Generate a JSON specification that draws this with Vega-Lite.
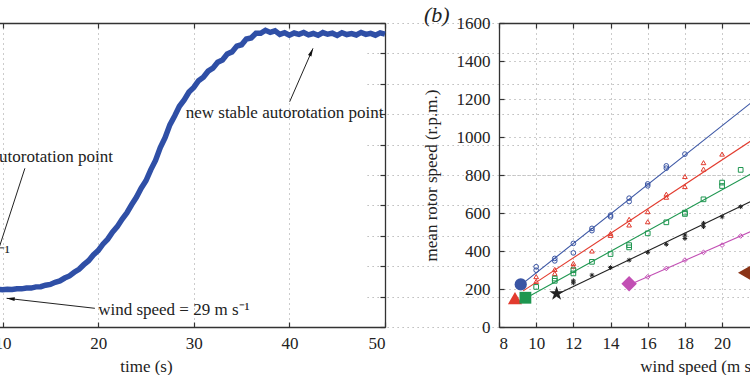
{
  "$schema": "https://vega.github.io/schema/vega-lite/v6.json",
  "width": 750,
  "height": 304,
  "autosize": {"type": "none"},
  "padding": {"top": 23, "bottom": 48, "left": 0, "right": 0},
  "background": "white",
  "config": {
    "view": {"stroke": null},
    "font": "Liberation Serif",
    "axis": {
      "labelFont": "Liberation Serif", "labelFontSize": 17, "labelColor": "#222",
      "titleFont": "Liberation Serif", "titleFontSize": 17, "titleFontWeight": "normal", "titleColor": "#222",
      "domainColor": "#333", "domainWidth": 1.3, "tickColor": "#333", "tickWidth": 1.2, "tickSize": -5,
      "gridColor": "#999", "gridDash": [1, 4], "gridWidth": 1
    },
    "text": {"font": "Liberation Serif", "fontSize": 17, "color": "#222"}
  },
  "datasets": {
    "curve": [
      {"t":0,"rpm":243},{"t":0.5,"rpm":238},{"t":1,"rpm":242},{"t":1.5,"rpm":239},{"t":2,"rpm":244},{"t":2.5,"rpm":240},{"t":3,"rpm":241},{"t":3.5,"rpm":245},{"t":4,"rpm":240},{"t":4.5,"rpm":243},
      {"t":5,"rpm":239},{"t":5.5,"rpm":244},{"t":6,"rpm":241},{"t":6.5,"rpm":246},{"t":7,"rpm":242},{"t":7.5,"rpm":245},{"t":8,"rpm":243},{"t":8.5,"rpm":247},{"t":9,"rpm":244},{"t":9.5,"rpm":248},
      {"t":10,"rpm":245},{"t":10.5,"rpm":249},{"t":11,"rpm":247},{"t":11.5,"rpm":252},{"t":12,"rpm":251},{"t":12.5,"rpm":257},{"t":13,"rpm":256},{"t":13.5,"rpm":264},{"t":14,"rpm":265},{"t":14.5,"rpm":275},
      {"t":15,"rpm":280},{"t":15.5,"rpm":294},{"t":16,"rpm":303},{"t":16.5,"rpm":322},{"t":17,"rpm":336},{"t":17.5,"rpm":360},{"t":18,"rpm":380},{"t":18.5,"rpm":410},{"t":19,"rpm":436},{"t":19.5,"rpm":474},
      {"t":20,"rpm":503},{"t":20.5,"rpm":545},{"t":21,"rpm":578},{"t":21.5,"rpm":624},{"t":22,"rpm":660},{"t":22.5,"rpm":709},{"t":23,"rpm":750},{"t":23.5,"rpm":804},{"t":24,"rpm":853},{"t":24.5,"rpm":913},
      {"t":25,"rpm":962},{"t":25.5,"rpm":1034},{"t":26,"rpm":1096},{"t":26.5,"rpm":1180},{"t":27,"rpm":1246},{"t":27.5,"rpm":1330},{"t":28,"rpm":1388},{"t":28.5,"rpm":1452},{"t":29,"rpm":1494},{"t":29.5,"rpm":1546},
      {"t":30,"rpm":1576},{"t":30.5,"rpm":1620},{"t":31,"rpm":1643},{"t":31.5,"rpm":1683},{"t":32,"rpm":1703},{"t":32.5,"rpm":1742},{"t":33,"rpm":1757},{"t":33.5,"rpm":1796},{"t":34,"rpm":1810},{"t":34.5,"rpm":1848},
      {"t":35,"rpm":1857},{"t":35.5,"rpm":1895},{"t":36,"rpm":1902},{"t":36.5,"rpm":1933},{"t":37,"rpm":1932},{"t":37.5,"rpm":1952},{"t":38,"rpm":1938},{"t":38.5,"rpm":1948},{"t":39,"rpm":1925},{"t":39.5,"rpm":1936},
      {"t":40,"rpm":1920},{"t":40.5,"rpm":1934},{"t":41,"rpm":1925},{"t":41.5,"rpm":1938},{"t":42,"rpm":1922},{"t":42.5,"rpm":1931},{"t":43,"rpm":1919},{"t":43.5,"rpm":1937},{"t":44,"rpm":1926},{"t":44.5,"rpm":1933},
      {"t":45,"rpm":1918},{"t":45.5,"rpm":1936},{"t":46,"rpm":1924},{"t":46.5,"rpm":1930},{"t":47,"rpm":1921},{"t":47.5,"rpm":1938},{"t":48,"rpm":1925},{"t":48.5,"rpm":1932},{"t":49,"rpm":1920},{"t":49.5,"rpm":1935},{"t":50,"rpm":1927}
    ],
    "arrows": [
      {"t":40.03,"rpm":1482,"t2":42.47,"rpm2":1833},
      {"t":19.66,"rpm":123,"t2":10.43,"rpm2":189},
      {"t":12.34,"rpm":1044,"t2":9.6,"rpm2":513}
    ],
    "fits": [
      {"series":"blue","wind":9.2,"speed":223},{"series":"blue","wind":23,"speed":1292},
      {"series":"red","wind":9.3,"speed":190},{"series":"red","wind":23,"speed":1073},
      {"series":"green","wind":9.6,"speed":160},{"series":"green","wind":23,"speed":885},
      {"series":"black","wind":11.3,"speed":180},{"series":"black","wind":23,"speed":729},
      {"series":"magenta","wind":15.2,"speed":230},{"series":"magenta","wind":23,"speed":565},
      {"series":"brown","wind":21.3,"speed":285},{"series":"brown","wind":23,"speed":350}
    ],
    "obs": [
      {"series":"blue","wind":10,"speed":317},{"series":"blue","wind":10,"speed":299},{"series":"blue","wind":11,"speed":361},{"series":"blue","wind":11,"speed":348},
      {"series":"blue","wind":12,"speed":440},{"series":"blue","wind":12,"speed":390},{"series":"blue","wind":13,"speed":519},{"series":"blue","wind":13,"speed":507},
      {"series":"blue","wind":14,"speed":589},{"series":"blue","wind":14,"speed":580},{"series":"blue","wind":15,"speed":678},{"series":"blue","wind":15,"speed":660},
      {"series":"blue","wind":16,"speed":753},{"series":"blue","wind":16,"speed":743},{"series":"blue","wind":17,"speed":836},{"series":"blue","wind":17,"speed":848},{"series":"blue","wind":18,"speed":910},
      {"series":"red","wind":10,"speed":265},{"series":"red","wind":10,"speed":240},{"series":"red","wind":11,"speed":303},{"series":"red","wind":11,"speed":282},
      {"series":"red","wind":12,"speed":335},{"series":"red","wind":12,"speed":320},{"series":"red","wind":13,"speed":400},{"series":"red","wind":14,"speed":493},{"series":"red","wind":14,"speed":482},
      {"series":"red","wind":15,"speed":567},{"series":"red","wind":15,"speed":537},{"series":"red","wind":16,"speed":607},{"series":"red","wind":16,"speed":554},
      {"series":"red","wind":17,"speed":699},{"series":"red","wind":17,"speed":683},{"series":"red","wind":18,"speed":792},{"series":"red","wind":18,"speed":739},
      {"series":"red","wind":19,"speed":865},{"series":"red","wind":19,"speed":831},{"series":"red","wind":20,"speed":910},
      {"series":"green","wind":10,"speed":211},{"series":"green","wind":11,"speed":255},{"series":"green","wind":11,"speed":243},{"series":"green","wind":12,"speed":299},{"series":"green","wind":12,"speed":282},
      {"series":"green","wind":13,"speed":343},{"series":"green","wind":14,"speed":384},{"series":"green","wind":15,"speed":431},{"series":"green","wind":15,"speed":419},{"series":"green","wind":16,"speed":493},
      {"series":"green","wind":17,"speed":551},{"series":"green","wind":18,"speed":602},{"series":"green","wind":18,"speed":595},{"series":"green","wind":19,"speed":672},
      {"series":"green","wind":20,"speed":760},{"series":"green","wind":20,"speed":742},{"series":"green","wind":21,"speed":827},
      {"series":"black","wind":12,"speed":243},{"series":"black","wind":12,"speed":232},{"series":"black","wind":13,"speed":273},{"series":"black","wind":14,"speed":313},{"series":"black","wind":15,"speed":352},
      {"series":"black","wind":16,"speed":393},{"series":"black","wind":17,"speed":435},{"series":"black","wind":18,"speed":484},{"series":"black","wind":18,"speed":466},
      {"series":"black","wind":19,"speed":546},{"series":"black","wind":19,"speed":528},{"series":"black","wind":20,"speed":580},{"series":"black","wind":21,"speed":633},
      {"series":"magenta","wind":16,"speed":264},{"series":"magenta","wind":17,"speed":308},{"series":"magenta","wind":18,"speed":352},{"series":"magenta","wind":19,"speed":393},{"series":"magenta","wind":20,"speed":431},{"series":"magenta","wind":21,"speed":479}
    ],
    "start": [
      {"series":"blue","wind":9.17,"speed":224},
      {"series":"red","wind":8.86,"speed":152},
      {"series":"green","wind":9.42,"speed":154},
      {"series":"black","wind":11.1,"speed":176},
      {"series":"magenta","wind":15.0,"speed":227},
      {"series":"brown","wind":21.2,"speed":285}
    ]
  },
  "layer": [
    {
      "data": {"name": "curve"},
      "mark": {"type": "line", "color": "#2f4fa6", "strokeWidth": 5.5},
      "encoding": {
        "x": {"field": "t", "type": "quantitative",
          "scale": {"domain": [0, 50], "range": [-93.1, 385], "nice": false, "zero": false},
          "axis": {"orient": "bottom", "values": [0, 10, 20, 30, 40, 50], "grid": true, "title": "time (s)", "labelPadding": 13, "titlePadding": 7}},
        "y": {"field": "rpm", "type": "quantitative",
          "scale": {"domain": [0, 2000], "nice": false, "zero": false},
          "axis": {"orient": "right", "offset": -365, "values": [0, 200, 400, 600, 800, 1000, 1200, 1400, 1600, 1800, 2000], "labels": false, "grid": true, "title": null}}
      }
    },
    {
      "data": {"name": "arrows"},
      "mark": {"type": "rule", "color": "#222", "strokeWidth": 1},
      "encoding": {
        "x": {"field": "t", "type": "quantitative",
          "scale": {"domain": [0, 50], "range": [-93.1, 385], "nice": false, "zero": false},
          "axis": {"orient": "top", "values": [0, 10, 20, 30, 40, 50], "labels": false, "grid": false, "title": null}},
        "x2": {"field": "t2"},
        "y": {"field": "rpm", "type": "quantitative", "scale": {"domain": [0, 2000], "nice": false, "zero": false}, "axis": null},
        "y2": {"field": "rpm2"}
      }
    },
    {
      "data": {"values": [{"t": 42.3, "rpm": 1809}]},
      "mark": {"type": "point", "shape": "M0,-1L0.45,1L-0.45,1Z", "filled": true, "color": "#111", "size": 70, "angle": 23.6, "opacity": 1},
      "encoding": {
        "x": {"field": "t", "type": "quantitative", "scale": {"domain": [0, 50], "range": [-93.1, 385], "nice": false, "zero": false}, "axis": null},
        "y": {"field": "rpm", "type": "quantitative", "scale": {"domain": [0, 2000], "nice": false, "zero": false}, "axis": null}
      }
    },
    {
      "data": {"values": [{"t": 10.84, "rpm": 186}]},
      "mark": {"type": "point", "shape": "M0,-1L0.45,1L-0.45,1Z", "filled": true, "color": "#111", "size": 70, "angle": 276.5, "opacity": 1},
      "encoding": {
        "x": {"field": "t", "type": "quantitative", "scale": {"domain": [0, 50], "range": [-93.1, 385], "nice": false, "zero": false}, "axis": null},
        "y": {"field": "rpm", "type": "quantitative", "scale": {"domain": [0, 2000], "nice": false, "zero": false}, "axis": null}
      }
    },
    {
      "data": {"values": [{"t": 39.5, "rpm": 1375, "label": "new stable autorotation point"}]},
      "mark": {"type": "text", "align": "center", "baseline": "alphabetic"},
      "encoding": {
        "x": {"field": "t", "type": "quantitative", "scale": {"domain": [0, 50], "range": [-93.1, 385], "nice": false, "zero": false}, "axis": null},
        "y": {"field": "rpm", "type": "quantitative", "scale": {"domain": [0, 2000], "nice": false, "zero": false}, "axis": null},
        "text": {"field": "label"}
      }
    },
    {
      "data": {"values": [{"t": 20.0, "rpm": 79, "label": "wind speed = 29 m s⁻¹"}]},
      "mark": {"type": "text", "align": "left", "baseline": "alphabetic"},
      "encoding": {
        "x": {"field": "t", "type": "quantitative", "scale": {"domain": [0, 50], "range": [-93.1, 385], "nice": false, "zero": false}, "axis": null},
        "y": {"field": "rpm", "type": "quantitative", "scale": {"domain": [0, 2000], "nice": false, "zero": false}, "axis": null},
        "text": {"field": "label"}
      }
    },
    {
      "data": {"values": [
        {"t": 21.54, "rpm": 1086, "label": "stable autorotation point"},
        {"t": 10.77, "rpm": 454, "label": "wind speed = 21 m s⁻¹"}
      ]},
      "mark": {"type": "text", "align": "right", "baseline": "alphabetic"},
      "encoding": {
        "x": {"field": "t", "type": "quantitative", "scale": {"domain": [0, 50], "range": [-93.1, 385], "nice": false, "zero": false}, "axis": null},
        "y": {"field": "rpm", "type": "quantitative", "scale": {"domain": [0, 2000], "nice": false, "zero": false}, "axis": null},
        "text": {"field": "label"}
      }
    },
    {
      "data": {"name": "fits"},
      "mark": {"type": "line", "strokeWidth": 1.1},
      "encoding": {
        "x": {"field": "wind", "type": "quantitative",
          "scale": {"domain": [8, 30], "range": [499, 908], "nice": false, "zero": false},
          "axis": {"orient": "bottom", "values": [8, 10, 12, 14, 16, 18, 20, 22, 24, 26, 28, 30], "grid": true, "title": "wind speed (m s⁻¹)", "labelPadding": 13, "titlePadding": 7}},
        "y": {"field": "speed", "type": "quantitative",
          "scale": {"domain": [0, 1600], "nice": false, "zero": false},
          "axis": {"orient": "left", "offset": -499, "values": [0, 200, 400, 600, 800, 1000, 1200, 1400, 1600], "format": "d", "grid": true, "title": "mean rotor speed (r.p.m.)", "labelPadding": 14, "titlePadding": 16}},
        "color": {"field": "series", "type": "nominal",
          "scale": {"domain": ["blue", "red", "green", "black", "magenta", "brown"], "range": ["#3a55a4", "#e23b2e", "#1e9650", "#222222", "#c24fb4", "#8a3417"]},
          "legend": null}
      }
    },
    {
      "data": {"name": "obs"},
      "mark": {"type": "point", "filled": false, "size": 22, "strokeWidth": 1, "opacity": 1},
      "encoding": {
        "x": {"field": "wind", "type": "quantitative",
          "scale": {"domain": [8, 30], "range": [499, 908], "nice": false, "zero": false},
          "axis": {"orient": "top", "values": [8, 10, 12, 14, 16, 18, 20, 22, 24, 26, 28, 30], "labels": false, "grid": false, "title": null}},
        "y": {"field": "speed", "type": "quantitative", "scale": {"domain": [0, 1600], "nice": false, "zero": false}, "axis": null},
        "color": {"field": "series", "type": "nominal",
          "scale": {"domain": ["blue", "red", "green", "black", "magenta"], "range": ["#3a55a4", "#e23b2e", "#1e9650", "#222222", "#c24fb4"]},
          "legend": null},
        "shape": {"field": "series", "type": "nominal",
          "scale": {"domain": ["blue", "red", "green", "black", "magenta"], "range": ["circle", "triangle-up", "square", "M-1,0L1,0M0,-1L0,1M-0.7,-0.7L0.7,0.7M-0.7,0.7L0.7,-0.7", "diamond"]},
          "legend": null}
      }
    },
    {
      "data": {"name": "start"},
      "mark": {"type": "point", "filled": true, "opacity": 1},
      "encoding": {
        "x": {"field": "wind", "type": "quantitative", "scale": {"domain": [8, 30], "range": [499, 908], "nice": false, "zero": false}, "axis": null},
        "y": {"field": "speed", "type": "quantitative", "scale": {"domain": [0, 1600], "nice": false, "zero": false}, "axis": null},
        "color": {"field": "series", "type": "nominal",
          "scale": {"domain": ["blue", "red", "green", "black", "magenta", "brown"], "range": ["#3a55a4", "#e23b2e", "#1e9650", "#222222", "#c24fb4", "#8a3417"]},
          "legend": null},
        "shape": {"field": "series", "type": "nominal",
          "scale": {"domain": ["blue", "red", "green", "black", "magenta", "brown"], "range": ["circle", "triangle-up", "square", "M0,-1L0.2245,-0.309L0.951,-0.309L0.363,0.118L0.588,0.809L0,0.382L-0.588,0.809L-0.363,0.118L-0.951,-0.309L-0.2245,-0.309Z", "diamond", "triangle-left"]},
          "legend": null},
        "size": {"field": "series", "type": "ordinal",
          "scale": {"type": "ordinal", "domain": ["blue", "red", "green", "black", "magenta", "brown"], "range": [150, 200, 140, 230, 240, 220]},
          "legend": null}
      }
    },
    {
      "data": {"values": [{"wind": 4.65, "speed": 1603, "label": "(b)"}]},
      "mark": {"type": "text", "fontStyle": "italic", "fontSize": 22, "align": "center", "baseline": "alphabetic"},
      "encoding": {
        "x": {"field": "wind", "type": "quantitative", "scale": {"domain": [8, 30], "range": [499, 908], "nice": false, "zero": false}, "axis": null},
        "y": {"field": "speed", "type": "quantitative", "scale": {"domain": [0, 1600], "nice": false, "zero": false}, "axis": null},
        "text": {"field": "label"}
      }
    }
  ],
  "resolve": {
    "scale": {"x": "independent", "y": "independent", "color": "independent", "shape": "independent", "size": "independent"},
    "axis": {"x": "independent", "y": "independent"}
  }
}
